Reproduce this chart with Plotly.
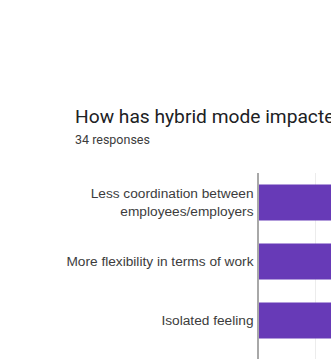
import plotly.graph_objects as go

categories = [
    "Less coordination between<br>employees/employers",
    "More flexibility in terms of work",
    "Isolated feeling",
]
counts = [14, 22, 11]
title_text = "How has hybrid mode impacted your work?"
subtitle_text = "34 responses"

W, H = 331, 359
top, left = 173, 259
plot_h = H - top
plot_w = W - left

def px_x(x):
    return (x - left) / plot_w

def px_y(y):
    return (H - y) / plot_h

fig = go.Figure(
    go.Bar(
        x=counts,
        y=list(range(len(categories))),
        orientation="h",
        marker=dict(color="#673ab7", line=dict(width=0)),
        width=0.61,
        hoverinfo="skip",
    )
)

fig.update_layout(
    width=W,
    height=H,
    margin=dict(l=left, r=0, t=top, b=0),
    paper_bgcolor="white",
    plot_bgcolor="white",
    showlegend=False,
    xaxis=dict(
        range=[0, 5 * plot_w / 56],
        dtick=5,
        showgrid=True,
        gridcolor="#ececec",
        gridwidth=1,
        zeroline=False,
        showticklabels=False,
        showline=False,
    ),
    yaxis=dict(
        range=[(plot_h / 59) - 0.5, -0.5],
        tickmode="array",
        tickvals=list(range(len(categories))),
        ticktext=categories,
        showgrid=False,
        zeroline=False,
        showline=True,
        linecolor="#a8a8a8",
        linewidth=1.5,
        ticks="",
        ticklabelstandoff=1,
        tickfont=dict(family="Liberation Sans, Arial", size=13.7, color="#3c3c3c"),
    ),
    annotations=[
        dict(
            text=title_text,
            xref="paper", yref="paper",
            x=px_x(73), y=px_y(116),
            xanchor="left", yanchor="middle",
            showarrow=False,
            font=dict(family="Roboto", size=19.2, color="#202124"),
        ),
        dict(
            text=subtitle_text,
            xref="paper", yref="paper",
            x=px_x(73), y=px_y(139.5),
            xanchor="left", yanchor="middle",
            showarrow=False,
            font=dict(family="Roboto", size=12.5, color="#3c3c3c"),
        ),
    ],
)

fig.write_html("out.html")
